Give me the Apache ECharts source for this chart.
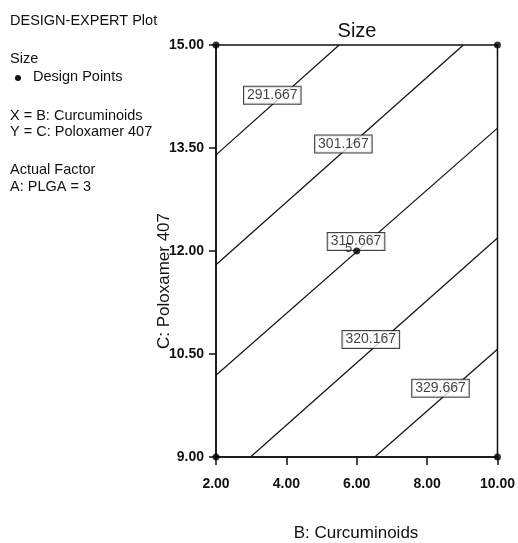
<!DOCTYPE html>
<html>
<head>
<meta charset="utf-8">
<script src="https://cdn.jsdelivr.net/npm/echarts@6/dist/echarts.min.js"></script>
<style>
html,body{margin:0;padding:0;background:#fff;}
#chart{width:518px;height:543px;}
</style>
</head>
<body>
<div id="chart"></div>
<script>
// ---- data ----
const xRange = [2, 10];           // B: Curcuminoids
const yRange = [9, 15];           // C: Poloxamer 407
const xInterval = 2;
const yInterval = 1.5;
const contourLevels = ['291.667', '301.167', '310.667', '320.167', '329.667'];
const contourLines = [
  [[2, 13.40], [5.50, 15]],
  [[2, 11.80], [9.03, 15]],
  [[2, 10.19], [10, 13.79]],
  [[2.98, 9], [10, 12.19]],
  [[6.51, 9], [10, 10.57]]
];
const labelPositions = [[3.60, 14.27], [5.62, 13.56], [5.98, 12.14], [6.40, 10.71], [8.38, 10.00]];
const designPoints = [[2, 9], [10, 9], [2, 15], [10, 15], [6, 12]];
const centerReplicates = '5';
const infoLines = ['DESIGN-EXPERT Plot', 'Size', 'Design Points', 'X = B: Curcuminoids', 'Y = C: Poloxamer 407', 'Actual Factor', 'A: PLGA = 3'];
const titleText = 'Size';
const xName = 'B: Curcuminoids';
const yName = 'C: Poloxamer 407';

// ---- chart ----
const FONT = '"Liberation Sans", Arial, sans-serif';
const chart = echarts.init(document.getElementById('chart'), null, {renderer: 'canvas'});

const series = [];
contourLines.forEach((pts, i) => {
  series.push({
    type: 'line', data: pts, symbol: 'none', silent: true, z: 2,
    lineStyle: {color: '#111', width: 1.2}
  });
});
series.push({
  type: 'scatter', z: 5, symbolSize: 0, silent: true,
  data: labelPositions.map((p, i) => ({value: p, name: contourLevels[i]})),
  label: {
    show: true, position: 'inside', formatter: p => p.name,
    color: '#111', fontFamily: FONT, fontSize: 14,
    backgroundColor: '#fff', borderColor: '#111', borderWidth: 1,
    padding: [2, 3, 1, 3]
  }
});
series.push({
  type: 'scatter', z: 10, symbolSize: 7, silent: true,
  itemStyle: {color: '#000'},
  data: designPoints.map(p => {
    if (p[0] === 6 && p[1] === 12) {
      return {value: p, label: {show: true, formatter: centerReplicates, position: 'left', distance: 1,
        color: '#111', fontFamily: FONT, fontSize: 13, offset: [0, -3]}};
    }
    return {value: p};
  })
});

const infoY = [21, 59, 77, 116, 132, 170, 187];
const graphics = infoLines.map((t, i) => ({
  type: 'text', left: i === 2 ? 33 : 10, top: infoY[i] - 8,
  style: {text: t, font: '14.5px ' + FONT, fill: '#111'}
}));
graphics.push({type: 'circle', shape: {cx: 18, cy: 78, r: 3}, style: {fill: '#111'}});
graphics.push({type: 'text', x: 357, y: 31, style: {text: titleText, font: '20px ' + FONT, fill: '#111', align: 'center', verticalAlign: 'middle'}});
graphics.push({type: 'text', x: 356, y: 533, style: {text: xName, font: '17px ' + FONT, fill: '#111', align: 'center', verticalAlign: 'middle'}});
graphics.push({type: 'text', x: 164, y: 281, rotation: Math.PI / 2, style: {text: yName, font: '17px ' + FONT, fill: '#111', align: 'center', verticalAlign: 'middle'}});

chart.setOption({
  animation: false,
  backgroundColor: '#fff',
  grid: {left: 216, right: 19, top: 45, bottom: 86, show: true, borderColor: '#111', borderWidth: 1.5, backgroundColor: 'transparent'},
  xAxis: {
    type: 'value', min: xRange[0], max: xRange[1], interval: xInterval,
    axisLine: {show: true, lineStyle: {color: '#111', width: 1.5}},
    axisTick: {show: true, inside: false, length: 8, lineStyle: {color: '#111', width: 1.5}},
    splitLine: {show: false},
    axisLabel: {margin: 20, color: '#111', fontFamily: FONT, fontSize: 14, fontWeight: 'bold', formatter: v => v.toFixed(2)}
  },
  yAxis: {
    type: 'value', min: yRange[0], max: yRange[1], interval: yInterval,
    axisLine: {show: true, lineStyle: {color: '#111', width: 1.5}},
    axisTick: {show: true, inside: false, length: 7, lineStyle: {color: '#111', width: 1.5}},
    splitLine: {show: false},
    axisLabel: {margin: 12, color: '#111', fontFamily: FONT, fontSize: 14, fontWeight: 'bold', formatter: v => v.toFixed(2)}
  },
  graphic: graphics,
  series: series
});
</script>
</body>
</html>
